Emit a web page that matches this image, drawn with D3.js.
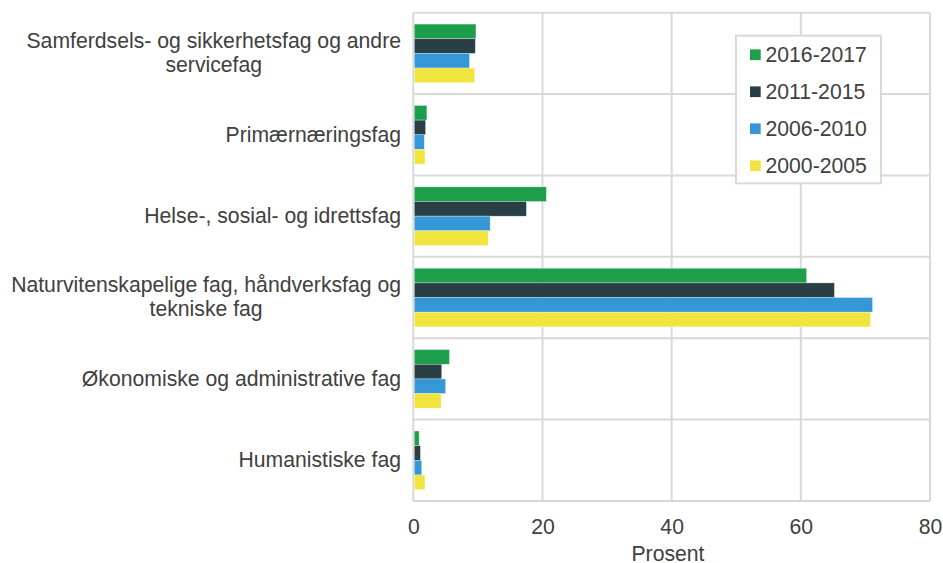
<!DOCTYPE html>
<html><head><meta charset="utf-8">
<script src="https://cdn.jsdelivr.net/npm/d3@7"></script>
<style>body{margin:0;background:#fff;} svg{display:block;font-family:"Liberation Sans",Arial,sans-serif;}</style>
</head><body>
<svg id="c" width="943" height="563"></svg>
<script>
const categories = [
  "Samferdsels- og sikkerhetsfag og andre\nservicefag",
  "Primærnæringsfag",
  "Helse-, sosial- og idrettsfag",
  "Naturvitenskapelige fag, håndverksfag og\ntekniske fag",
  "Økonomiske og administrative fag",
  "Humanistiske fag"
];
const seriesNames = ["2016-2017", "2011-2015", "2006-2010", "2000-2005"];
const s2016_2017 = [9.7, 2.1, 20.6, 60.9, 5.6, 0.9];
const s2011_2015 = [9.6, 1.9, 17.5, 65.2, 4.4, 1.1];
const s2006_2010 = [8.7, 1.7, 11.9, 71.1, 5.0, 1.3];
const s2000_2005 = [9.5, 1.8, 11.6, 70.8, 4.3, 1.8];
const xTicks = [0, 20, 40, 60, 80];
const xLabel = "Prosent";
const colors = ["#1c9e4b", "#273f45", "#3597d6", "#f0e43f"];

(function () {
const seriesValues = [s2016_2017, s2011_2015, s2006_2010, s2000_2005];
const svg = d3.select("#c");
const pLeft = 413.3, pRight = 930, pTop = 12.7, pBottom = 501;
const grid = "#d9d9d9", textCol = "#404040";
const fs = "21.2px";

const x = d3.scaleLinear().domain([0, 80]).range([pLeft, pRight]);
const y0 = d3.scaleBand().domain(categories).range([pTop, pBottom]).padding(0);
const innerPad = 11.4;
const y1 = d3.scaleBand().domain(seriesNames).range([innerPad, y0.bandwidth() - innerPad]).padding(0);

svg.append("g").selectAll("line").data(xTicks).join("line")
  .attr("x1", d => x(d)).attr("x2", d => x(d)).attr("y1", pTop).attr("y2", pBottom)
  .attr("stroke", grid).attr("stroke-width", 2);
svg.append("g").selectAll("line").data(categories).join("line")
  .attr("x1", pLeft).attr("x2", pRight)
  .attr("y1", d => y0(d)).attr("y2", d => y0(d))
  .attr("stroke", grid).attr("stroke-width", 2);
svg.append("line").attr("x1", pLeft).attr("x2", pRight).attr("y1", pBottom).attr("y2", pBottom)
  .attr("stroke", grid).attr("stroke-width", 2);

const rows = [];
categories.forEach((c, i) => seriesNames.forEach((s, j) => rows.push({c, s, j, v: seriesValues[j][i]})));
svg.append("g").selectAll("rect").data(rows).join("rect")
  .attr("x", x(0) + 1)
  .attr("y", d => y0(d.c) + y1(d.s))
  .attr("width", d => x(d.v) - x(0) - 1)
  .attr("height", y1.bandwidth())
  .attr("fill", d => colors[d.j])
  .attr("stroke", "#ffffff").attr("stroke-width", 0.6).attr("stroke-opacity", 0.5);

const xa = d3.axisBottom(x).tickValues(xTicks).tickSize(0).tickPadding(0);
const gx = svg.append("g").attr("transform", `translate(0,${pBottom})`).call(xa);
gx.select(".domain").remove();
gx.selectAll("text").attr("font-size", fs).attr("fill", textCol)
  .attr("font-family", '"Liberation Sans",Arial,sans-serif').attr("dy", null).attr("y", 33.3);
svg.append("text").attr("x", 668).attr("y", 560.5)
  .attr("text-anchor", "middle").attr("font-size", fs).attr("fill", textCol).text(xLabel);

const lab = svg.append("g");
categories.forEach(c => {
  const lines = c.split("\n");
  const cy = y0(c) + y0.bandwidth() / 2;
  const g = lab.append("g");
  const lh = 24.3;
  const t = lines.map((ln, k) => g.append("text")
    .attr("y", cy + (k - (lines.length - 1) / 2) * lh)
    .attr("dy", "0.32em").attr("text-anchor", "middle")
    .attr("font-size", fs).attr("fill", textCol).text(ln));
  const w = d3.max(t, n => n.node().getComputedTextLength());
  t.forEach(n => n.attr("x", 401 - w / 2));
});

const lg = svg.append("g");
lg.append("rect").attr("x", 736).attr("y", 35.7).attr("width", 145).attr("height", 147.6)
  .attr("fill", "#fff").attr("stroke", grid).attr("stroke-width", 2);
seriesNames.forEach((s, j) => {
  const cy = 54.7 + j * 37;
  lg.append("rect").attr("x", 750).attr("y", cy - 5.3).attr("width", 10.7).attr("height", 10.7).attr("fill", colors[j]);
  lg.append("text").attr("x", 765.5).attr("y", cy + 7).attr("font-size", fs).attr("fill", textCol).text(s);
});
})();
</script>
</body></html>
